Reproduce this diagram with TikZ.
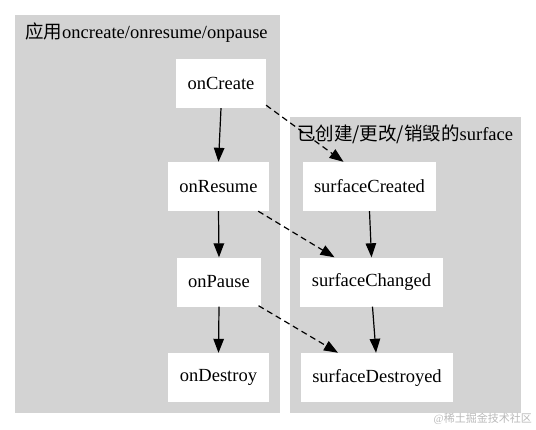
\documentclass[tikz,border=0pt]{standalone}
\usepackage{fontspec}
\setmainfont{Liberation Serif}
\newfontfamily\cjk{Noto Sans CJK SC}
\usetikzlibrary{arrows.meta,calc}
\definecolor{clusterfill}{RGB}{211,211,211}
\definecolor{wmark}{RGB}{185,185,185}
\tikzset{
  stepbox/.style={fill=white,draw=none,inner xsep=11.5pt,minimum height=49pt,font=\fontsize{18.5}{22}\selectfont},
  flow/.style={line width=1.2pt,-{Triangle[length=14pt,width=10.5pt]}},
  link/.style={flow,dash pattern=on 6pt off 4pt},
  heading/.style={anchor=west,inner sep=0pt,font=\fontsize{18.5}{22}\selectfont},
}
\begin{document}
\begin{tikzpicture}[x=1pt,y=-1pt]
\useasboundingbox (0,0) rectangle (536,429);
\fill[clusterfill] (15,15) rectangle (280,413);
\fill[clusterfill] (290,117) rectangle (521,413);
\node[heading] (h1) at (25,33) {{\cjk 应用}oncreate/onresume/onpause};
\node[heading] (h2) at (297,134) {{\cjk 已创建/更改/销毁的}surface};
\node[stepbox] (onCreate) at (221,83.5) {onCreate};
\node[stepbox] (onResume) at (218.5,186.5) {onResume};
\node[stepbox] (onPause) at (219,282) {onPause};
\node[stepbox] (onDestroy) at (218.5,377.5) {onDestroy};
\node[stepbox] (sCreated) at (369.5,186.5) {surfaceCreated};
\node[stepbox] (sChanged) at (371.5,282) {surfaceChanged};
\node[stepbox] (sDestroyed) at (377,377.5) {surfaceDestroyed};
\draw[flow] (onCreate.south) -- (onResume.north);
\draw[flow] (onResume.south) -- (onPause.north);
\draw[flow] (onPause.south) -- (onDestroy.north);
\draw[flow] (sCreated.south) -- (sChanged.north);
\draw[flow] ($(sChanged.south)+(1,0)$) -- ($(sDestroyed.north)+(-1,0)$);
\draw[link] ($(onCreate.south east)+(0,-3)$) -- ($(sCreated.north)+(-26,0)$);
\draw[link] ($(onResume.south east)+(-11,0)$) -- ($(sChanged.north)+(-37,0)$);
\draw[link] ($(onPause.south east)+(-3,-1)$) -- ($(sDestroyed.north)+(-39,0)$);
\node[anchor=east,inner sep=0pt,text=wmark,font=\fontsize{11}{13}\selectfont] (wm) at (532,419) {@{\cjk 稀土掘金技术社区}};
\end{tikzpicture}
\end{document}
